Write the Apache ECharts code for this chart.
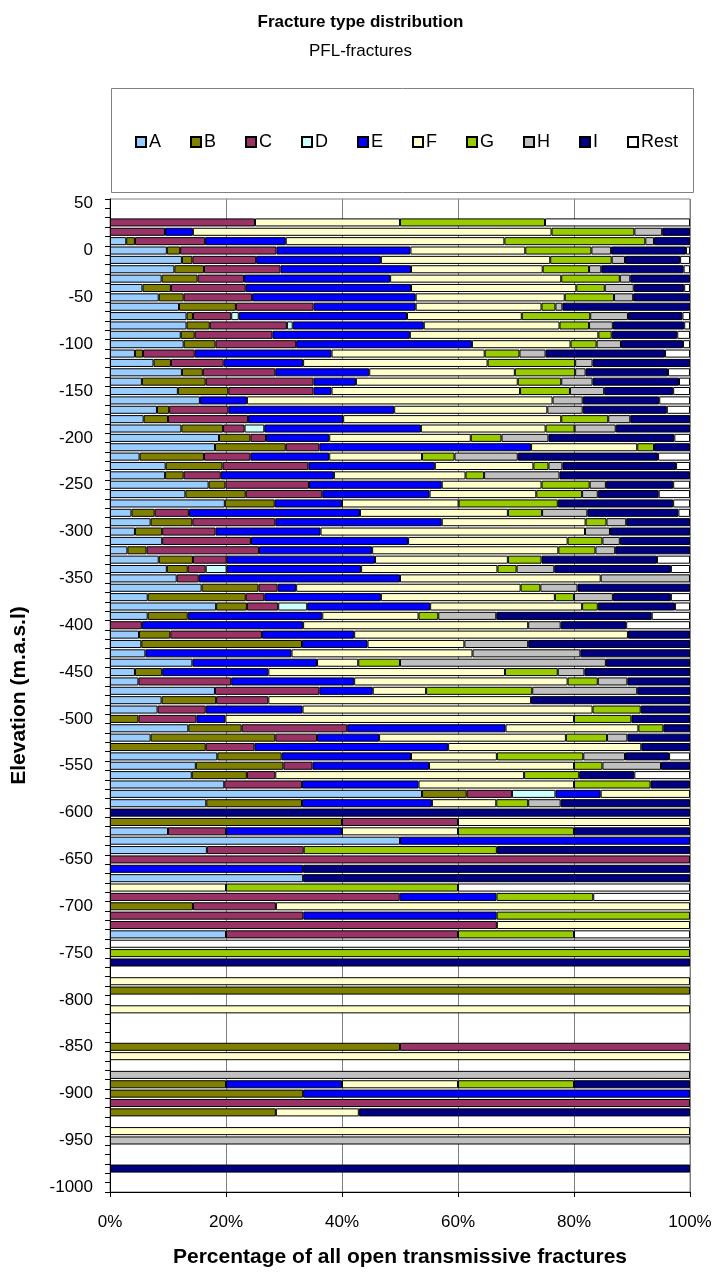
<!DOCTYPE html>
<html><head><meta charset="utf-8">
<script src="https://cdn.jsdelivr.net/npm/echarts@6/dist/echarts.min.js"></script>
<style>html,body{margin:0;padding:0;background:#fff}#c{width:721px;height:1276px}</style>
</head><body><div id="c"></div>
<script>
// Elevation bins (m.a.s.l), top to bottom
const elevations = [50,40,30,20,10,0,-10,-20,-30,-40,
 -50,-60,-70,-80,-90,-100,-110,-120,-130,-140,
 -150,-160,-170,-180,-190,-200,-210,-220,-230,-240,
 -250,-260,-270,-280,-290,-300,-310,-320,-330,-340,
 -350,-360,-370,-380,-390,-400,-410,-420,-430,-440,
 -450,-460,-470,-480,-490,-500,-510,-520,-530,-540,
 -550,-560,-570,-580,-590,-600,-610,-620,-630,-640,
 -650,-660,-670,-680,-690,-700,-710,-720,-730,-740,
 -750,-760,-770,-780,-790,-800,-810,-820,-830,-840,
 -850,-860,-870,-880,-890,-900,-910,-920,-930,-940,
 -950,-960,-970,-980,-990,-1000];
const typeNames = ['A','B','C','D','E','F','G','H','I','Rest'];
const xTicks = [0,20,40,60,80,100];

// Percentages per type, one entry per elevation bin
const A = [0,0,0,0,2.8,9.8,12.4,11.1,8.9,5.6,
 8.4,11.9,13.2,13.2,12.2,12.7,4.3,7.5,12.4,5.5,
 11.7,15.5,8.1,5.8,12.3,18.8,18.1,5.1,9.6,9.5,
 17.0,13.0,19.8,3.7,7.0,4.3,9.0,3.0,8.4,9.8,
 11.5,15.8,6.5,18.3,6.5,0,5.0,5.4,6.1,14.2,
 4.3,4.9,18.1,8.9,8.2,0,13.5,7.0,0,18.5,
 14.8,14.1,19.7,53.8,16.6,0,0,10,50,16.7,
 0,0,33.3,0,0,0,0,0,20,0,
 0,0,0,0,0,0,0,0,0,0,
 0,0,0,0,0,0,0,0,0,0,
 0,0,0,0,0,0];
const B = [0,0,0,0,1.5,2.3,1.8,5.1,6.2,4.9,
 4.3,9.8,1.1,4.0,2.4,5.5,1.4,3.0,3.6,11.0,
 8.7,0,2.1,4.2,7.2,5.4,12.2,11.1,9.8,3.2,
 2.9,10.4,8.6,4.0,7.2,4.7,0,3.3,5.9,3.6,
 0,9.8,16.9,5.3,6.9,0,5.4,27.7,0,0,
 4.7,0,0,9.4,0,4.9,9.2,21.5,16.5,11.1,
 15.1,9.5,0,7.7,16.5,0,40,0,0,0,
 0,0,0,0,0,14.3,0,0,0,0,
 0,0,0,0,100,0,0,0,0,0,
 50,0,0,0,20,33.3,0,28.6,0,0,
 0,0,0,0,0,0];
const C = [0,0,25,9.5,12.1,16.6,11.0,13.2,8.0,12.9,
 11.8,13.4,6.6,13.3,13.4,13.9,8.9,9.1,12.5,18.6,
 14.7,0,10.2,13.8,3.7,2.7,5.8,8.0,14.8,6.4,
 14.4,13.2,0,5.9,14.3,9.2,15.3,19.4,5.8,3.1,
 3.8,3.3,3.2,5.4,0,5.5,15.8,0,0,0,
 0,16.0,18.0,9.0,8.3,10.0,18.2,7.2,8.4,0,
 5.0,4.9,13.4,7.8,0,0,20,10,0,16.7,
 100,0,0,0,50,14.3,33.3,66.7,40,0,
 0,0,0,0,0,0,0,0,0,0,
 50,0,0,0,0,0,100,0,0,0,
 0,0,0,0,0,0];
const D = [0,0,0,0,0,0,0,0,0,0,
 0,0,1.3,1.0,0,0,0,0,0,0,
 0,0,0,0,3.4,0,0,0,0,0,
 0,0,0,0,0,0,0,0,0,3.6,
 0,0,0,5.0,0,0,0,0,0,0,
 0,0,0,0,0,0,0,0,0,0,
 0,0,0,7.5,0,0,0,0,0,0,
 0,0,0,0,0,0,0,0,0,0,
 0,0,0,0,0,0,0,0,0,0,
 0,0,0,0,0,0,0,0,0,0,
 0,0,0,0,0,0];
const E = [0,0,0,4.8,13.9,23.1,21.5,22.5,25.2,28.5,
 28.2,17.6,29.0,22.6,23.7,30.3,23.6,13.7,16.2,7.3,
 3.1,8.1,28.6,16.4,27.0,10.9,36.5,13.6,21.8,19.5,
 22.9,18.5,11.6,29.5,28.7,18.1,27.1,19.5,25.6,23.2,
 34.7,3.2,20.1,21.2,23.2,27.8,15.9,11.3,25.2,21.5,
 18.3,21.2,9.2,0,16.7,5.0,27.3,10.7,33.4,22.3,
 20.1,0,20.1,7.8,22.4,0,0,20,50,0,
 0,33.3,0,0,16.7,0,33.3,0,0,0,
 0,0,0,0,0,0,0,0,0,0,
 0,0,0,0,20,66.7,0,0,0,0,
 0,0,0,0,0,0];
const F = [0,0,25,61.9,37.7,19.8,29.2,22.7,29.5,28.5,
 25.7,21.7,19.8,23.4,32.5,17.0,26.4,31.8,25.1,27.9,
 32.5,52.7,26.4,37.6,21.5,24.4,18.3,16.0,17.0,22.7,
 17.2,18.4,20.1,25.5,24.8,45.6,27.5,32.1,22.9,23.5,
 34.6,38.7,30.0,26.2,16.6,38.8,47.2,16.7,31.2,7.1,
 40.8,36.8,9.2,45.3,50.0,60.1,22.9,32.2,33.3,14.8,
 25.0,42.9,26.8,15.4,11.1,0,40,20,0,0,
 0,0,0,20,0,71.4,0,33.3,0,0,
 0,0,0,100,0,0,100,0,0,0,
 0,100,0,0,20,0,0,14.3,0,100,
 0,0,0,0,0,0];
const G = [0,0,25,14.3,24.3,11.4,10.6,8.0,10.1,4.9,
 8.5,2.4,11.8,5.1,2.3,4.5,6.0,15.1,10.4,7.5,
 8.6,0,0,8.1,5.0,5.3,2.9,5.6,2.6,3.2,
 8.3,7.9,17.1,5.9,3.6,0,6.0,6.4,5.8,3.3,
 0,3.4,3.3,2.7,3.4,0,0,0,0,7.2,
 9.1,5.2,18.3,0,8.3,9.9,4.3,7.1,0,14.9,
 4.9,9.5,13.2,0,5.5,0,0,20,0,33.3,
 0,0,0,40,16.7,0,33.3,0,20,0,
 100,0,0,0,0,0,0,0,0,0,
 0,0,0,0,20,0,0,0,0,0,
 0,0,0,0,0,0];
const H = [0,0,0,4.8,1.5,3.4,2.3,2.1,1.8,5.0,
 3.3,1.2,6.5,4.1,0,4.2,4.5,3.0,1.8,5.4,
 5.9,5.2,6.1,3.8,7.1,8.1,0,10.9,2.4,13.0,
 2.8,2.7,0,7.8,3.4,4.3,3.0,3.4,0,6.5,
 15.4,6.4,6.7,0,10.0,5.6,0,11.0,18.6,35.5,
 4.6,5.1,18.1,0,0,0,0,3.5,0,7.2,
 10.1,0,0,0,5.6,0,0,0,0,0,
 0,0,0,0,0,0,0,0,0,0,
 0,0,0,0,0,0,0,0,0,0,
 0,0,0,100,0,0,0,0,0,0,
 100,0,0,0,0,0];
const I = [0,0,0,4.8,6.2,12.9,9.5,14.2,10.3,8.7,
 9.8,22.0,9.4,12.3,11.3,10.7,20.6,16.8,14.2,14.9,
 11.9,13.2,14.5,10.3,12.8,21.7,6.2,24.2,19.6,22.5,
 11.6,10.5,19.9,15.7,11.0,13.8,12.1,12.9,19.9,20.1,
 0,19.4,10.0,13.3,26.8,11.3,10.7,27.9,18.9,14.5,
 18.2,10.8,9.1,27.4,8.5,10.1,4.6,10.8,8.4,7.6,
 5.0,9.5,6.8,0,22.3,100,0,20,0,33.3,
 0,66.7,66.7,0,0,0,0,0,0,0,
 0,100,0,0,0,0,0,0,0,0,
 0,0,0,0,20,0,0,57.1,0,0,
 0,0,0,100,0,0];
const Rest = [0,0,25,0,0,0.7,1.7,1.1,0,1.0,
 0,0,1.3,1.0,2.2,1.2,4.3,0,3.8,1.9,
 2.9,5.3,4.0,0,0,2.7,0,5.5,2.4,0,
 2.9,5.4,2.9,2.0,0,0,0,0,5.7,3.3,
 0,0,3.3,2.6,6.6,11.0,0,0,0,0,
 0,0,0,0,0,0,0,0,0,3.6,
 0,9.6,0,0,0,0,0,0,0,0,
 0,0,0,40,16.7,0,0,0,20,100,
 0,0,0,0,0,0,0,0,0,0,
 0,0,0,0,0,0,0,0,0,0,
 0,0,0,0,0,0];

const seriesValues = [A,B,C,D,E,F,G,H,I,Rest];
const typeColors = ['#99CCFF','#808000','#993366','#CCFFFF','#0000FF','#FFFFCC','#99CC00','#C0C0C0','#000080','#FFFFFF'];
const FONT = "'Liberation Sans', Arial, sans-serif";

// 100% stacked: each bin normalised to its total
const totals = elevations.map((_, i) => seriesValues.reduce((s, arr) => s + arr[i], 0));
const series = typeNames.map((name, k) => ({
  name, type: 'bar', stack: 'all', barCategoryGap: '14%',
  data: seriesValues[k].map((v, i) => (v > 0 && totals[i] > 0) ? v / totals[i] * 100 : '-'),
  itemStyle: { color: typeColors[k], borderColor: '#000', borderWidth: 1 },
  emphasis: { disabled: true }
}));

const chart = echarts.init(document.getElementById('c'), null, { renderer: 'canvas' });
chart.setOption({
  animation: false,
  backgroundColor: '#fff',
  textStyle: { fontFamily: FONT, color: '#000' },
  title: [
    { text: 'Fracture type distribution', left: 'center', top: 9,
      textStyle: { fontFamily: FONT, fontSize: 17, fontWeight: 'bold', color: '#000' } },
    { text: 'PFL-fractures', left: 'center', top: 38,
      textStyle: { fontFamily: FONT, fontSize: 17, fontWeight: 'normal', color: '#000' } }
  ],
  graphic: [{ type: 'rect', shape: { x: 111.5, y: 88.5, width: 582, height: 104 },
    style: { fill: 'none', stroke: '#808080', lineWidth: 1 }, silent: true }],
  legend: {
    data: typeNames, left: 135, top: 132, padding: 0, itemGap: 29,
    itemWidth: 10, itemHeight: 10, icon: 'rect',
    textStyle: { fontFamily: FONT, fontSize: 18, lineHeight: 20, color: '#000', padding: [0, 0, 0, -2] }
  },
  grid: { left: 110, right: 31, top: 199, bottom: 84, show: true, borderColor: '#808080', borderWidth: 1 },
  xAxis: {
    type: 'value', min: xTicks[0], max: xTicks[xTicks.length - 1], interval: 20,
    axisLabel: { formatter: '{value}%', fontFamily: FONT, fontSize: 17, color: '#000', margin: 22 },
    axisLine: { show: true, lineStyle: { color: '#000' } },
    axisTick: { show: true, length: 5, lineStyle: { color: '#000' } },
    splitLine: { show: true, lineStyle: { color: '#808080', width: 1 } },
    name: 'Percentage of all open transmissive fractures', nameLocation: 'middle', nameGap: 55,
    nameTextStyle: { fontFamily: FONT, fontSize: 21, fontWeight: 'bold', color: '#000' }
  },
  yAxis: {
    type: 'category', data: elevations.map(String), inverse: true,
    axisLabel: { interval: 4, fontFamily: FONT, fontSize: 17, color: '#000', margin: 17 },
    axisTick: { show: true, interval: 0, length: 5, lineStyle: { color: '#000' } },
    axisLine: { show: true, lineStyle: { color: '#000' } },
    name: 'Elevation (m.a.s.l)', nameLocation: 'middle', nameGap: 80, nameRotate: 90,
    nameTextStyle: { fontFamily: FONT, fontSize: 21, fontWeight: 'bold', color: '#000' }
  },
  series
});
</script></body></html>
